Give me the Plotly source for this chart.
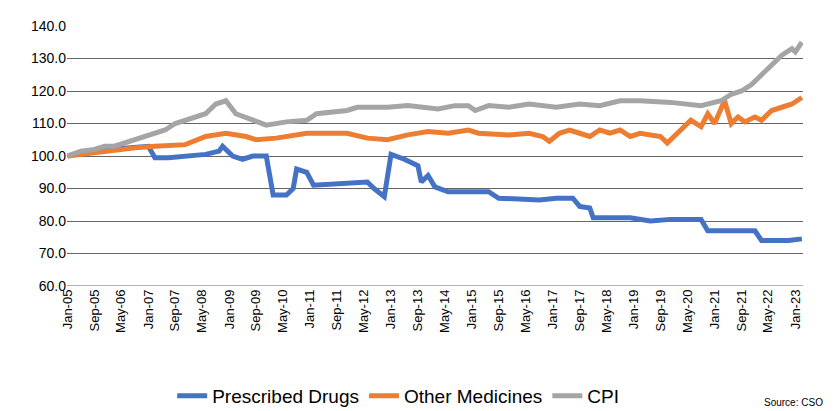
import plotly.graph_objects as go
import pandas as pd

# months counted from Jan-05
drugs_m = [0, 5, 12, 17, 24, 26, 30, 41, 45, 46, 49, 52, 55, 59, 61, 65, 67, 68, 71, 73, 80, 89, 91, 94, 96, 100, 104, 105, 107, 109, 113, 125, 128, 140, 145, 150, 152, 155, 156, 167, 173, 179, 188, 190, 200, 204, 206, 214, 218]
drugs_v = [100, 101, 102, 102.5, 103, 99.5, 99.5, 100.5, 101.5, 103, 100, 99, 100, 100, 88, 88, 90, 96, 95, 91, 91.5, 92, 90, 87.5, 100.5, 99, 97, 92, 94, 90.5, 89, 89, 87, 86.5, 87, 87, 84.5, 84, 81, 81, 80, 80.5, 80.5, 77, 77, 77, 74, 74, 74.5]

other_m = [0, 8, 14, 20, 26, 35, 41, 47, 53, 56, 62, 65, 71, 83, 89, 95, 101, 107, 113, 119, 122, 131, 137, 141, 143, 146, 149, 152, 155, 158, 161, 164, 167, 170, 173, 176, 178, 180, 182, 185, 188, 190, 192, 195, 197, 199, 201, 204, 206, 209, 212, 215, 218]
other_v = [100, 101, 102, 102.5, 103, 103.5, 106, 107, 106, 105, 105.5, 106, 107, 107, 105.5, 105, 106.5, 107.5, 107, 108, 107, 106.5, 107, 106, 104.5, 107, 108, 107, 106, 108, 107, 108, 106, 107, 106.5, 106, 104, 106, 108, 111, 109, 113, 110, 117, 110, 112, 110.5, 112, 111, 114, 115, 116, 118]

cpi_m = [0, 4, 8, 11, 14, 17, 22, 29, 32, 38, 41, 44, 47, 50, 55, 59, 65, 71, 74, 83, 86, 95, 101, 110, 115, 119, 121, 125, 131, 137, 145, 152, 158, 164, 170, 179, 188, 194, 197, 200, 203, 206, 209, 212, 215, 216, 218]
cpi_v = [100, 101.5, 102, 103, 103, 104, 106, 108, 110, 112, 113, 116, 117, 113, 111, 109.5, 110.5, 111, 113, 114, 115, 115, 115.5, 114.5, 115.5, 115.5, 114, 115.5, 115, 116, 115, 116, 115.5, 117, 117, 116.5, 115.5, 117, 119, 120, 122, 125, 128, 131, 133, 132, 135]

start = pd.Timestamp("2005-01-01")
def to_dates(months):
    return [start + pd.DateOffset(months=m) for m in months]

tick_dates = [start + pd.DateOffset(months=8 * i) for i in range(28)]

fig = go.Figure()
fig.add_trace(go.Scatter(x=to_dates(drugs_m), y=drugs_v, mode="lines", name="Prescribed Drugs",
                         line=dict(color="#4472C4", width=5)))
fig.add_trace(go.Scatter(x=to_dates(other_m), y=other_v, mode="lines", name="Other Medicines",
                         line=dict(color="#ED7D31", width=5)))
fig.add_trace(go.Scatter(x=to_dates(cpi_m), y=cpi_v, mode="lines", name="CPI",
                         line=dict(color="#A5A5A5", width=5)))

fig.update_layout(
    width=836, height=411,
    margin=dict(l=59, r=41, t=18, b=133, autoexpand=False),
    plot_bgcolor="white", paper_bgcolor="white",
    font=dict(family="Liberation Sans, Arial", color="black"),
    showlegend=True,
    legend=dict(orientation="h", x=0.45, xanchor="center", y=-0.35, yanchor="top",
                font=dict(size=19)),
)
fig.update_xaxes(
    range=[start - pd.DateOffset(days=5), start + pd.DateOffset(months=218, days=10)],
    tickvals=tick_dates, tickformat="%b-%y", tickangle=-90, tickfont=dict(size=13),
    showgrid=False, ticks="", showline=False, automargin=False,
)
fig.update_yaxes(
    range=[60, 140], dtick=10, tickformat=".1f", tickfont=dict(size=14),
    showgrid=True, gridcolor="#666666", gridwidth=1, zeroline=False, showline=False,
    automargin=False,
)
fig.add_shape(type="line", xref="paper", yref="y", x0=0, x1=1, y0=60, y1=60,
              line=dict(color="#666666", width=1))
fig.add_annotation(text="Source: CSO", xref="paper", yref="paper", x=1.03, y=-0.42,
                   xanchor="right", yanchor="top", showarrow=False, font=dict(size=10))

fig.write_html("out.html")
